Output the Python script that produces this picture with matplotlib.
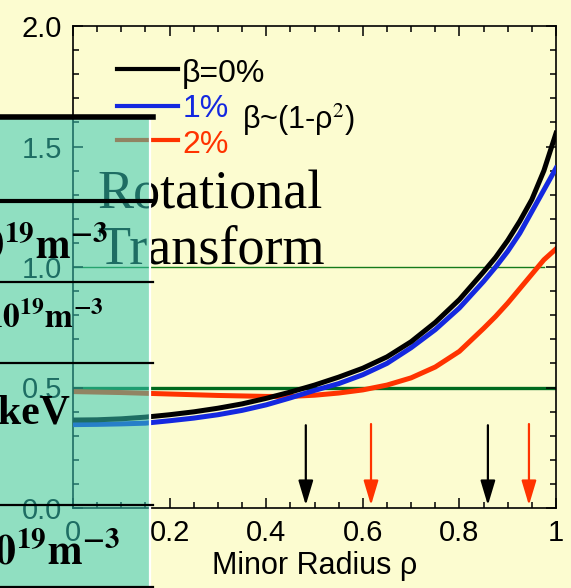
import matplotlib.pyplot as plt
from matplotlib.lines import Line2D
from matplotlib.patches import Rectangle
from matplotlib.ticker import MultipleLocator

plt.rcParams['font.family'] = ['Liberation Sans', 'DejaVu Sans']
plt.rcParams['mathtext.fontset'] = 'stix'

BG = '#FCFCD0'

# iota profiles
rho = [0.0, 0.05, 0.1, 0.15, 0.2, 0.25, 0.3, 0.35, 0.4, 0.45, 0.5, 0.55, 0.6, 0.65,
       0.7, 0.75, 0.8, 0.85, 0.875, 0.9, 0.925, 0.95, 0.975, 1.0]
iota_b0 = [0.365, 0.366, 0.37, 0.377, 0.387, 0.399, 0.414, 0.432, 0.455, 0.481, 0.51, 0.543,
           0.58, 0.627, 0.69, 0.77, 0.865, 0.98, 1.04, 1.11, 1.19, 1.28, 1.40, 1.555]
iota_b1 = [0.346, 0.347, 0.349, 0.352, 0.362, 0.373, 0.387, 0.405, 0.428, 0.457, 0.488, 0.516,
           0.553, 0.60, 0.665, 0.74, 0.83, 0.94, 1.0, 1.065, 1.14, 1.23, 1.32, 1.41]
iota_b2 = [0.483, 0.481, 0.479, 0.476, 0.473, 0.47, 0.467, 0.465, 0.463, 0.463, 0.468, 0.477,
           0.49, 0.51, 0.54, 0.585, 0.65, 0.745, 0.795, 0.85, 0.91, 0.97, 1.03, 1.075]

# rational surfaces (iota = 1/2 and 1)
arrow_black = [0.482, 0.859]
arrow_red = [0.617, 0.944]

table_rows = [r'$\mathbf{10^{19}m^{-3}}$', r'$\mathbf{10^{19}m^{-3}}$', 'keV', r'$\mathbf{10^{19}m^{-3}}$']

fig = plt.figure(figsize=(5.71, 5.88), dpi=100, facecolor=BG)
ax = fig.add_axes([73 / 571, 1 - 508 / 588, 483 / 571, 482 / 588], facecolor=BG)

ax.axhline(1.0, xmax=0.975, color='#157a1a', lw=1.0, zorder=1)
ax.axhline(0.5, color='#006a1e', lw=2.4, zorder=1)

ax.plot(rho, iota_b2, color='#FF3300', lw=3.6, zorder=2)
ax.plot(rho, iota_b1, color='#1428E0', lw=3.6, zorder=3)
ax.plot(rho, iota_b0, color='black', lw=3.6, zorder=4)

for xa in arrow_black:
    ax.annotate('', xy=(xa, 0.0), xytext=(xa, 0.355),
                arrowprops=dict(arrowstyle='-|>,head_length=1.5,head_width=0.45', color='black', lw=1.6))
for xa in arrow_red:
    ax.annotate('', xy=(xa, 0.0), xytext=(xa, 0.36),
                arrowprops=dict(arrowstyle='-|>,head_length=1.5,head_width=0.45', color='#FF3300', lw=1.6))

ax.set_xlim(0, 1)
ax.set_ylim(0, 2)
ax.xaxis.set_major_locator(MultipleLocator(0.2))
ax.xaxis.set_minor_locator(MultipleLocator(0.05))
ax.yaxis.set_major_locator(MultipleLocator(0.5))
ax.yaxis.set_minor_locator(MultipleLocator(0.1))
ax.xaxis.set_major_formatter(plt.FuncFormatter(lambda v, p: '%g' % round(v, 1)))
ax.yaxis.set_major_formatter(plt.FuncFormatter(lambda v, p: '%.1f' % v))
ax.tick_params(which='both', direction='in', top=True, right=True, labelsize=21, width=1.1)
ax.tick_params(which='major', length=7, pad=8)
ax.tick_params(which='minor', length=4)
for s in ax.spines.values():
    s.set_linewidth(1.2)
ax.set_xlabel('Minor Radius ρ', fontsize=22, labelpad=3)

# legend drawn by hand
leg = [('β=0%', 'black', 0.911, 0.900), ('1%', '#1428E0', 0.834, 0.828), ('2%', '#FF3300', 0.763, 0.753)]
for lab, col, yl, yt in leg:
    ax.plot([0.091, 0.217], [yl, yl], color=col, lw=3.0, transform=ax.transAxes, clip_on=False)
    ax.text(0.226, yt, lab, color=col, fontsize=23, va='center', transform=ax.transAxes)
ax.text(0.350, 0.805, 'β~(1-ρ$^2$)', fontsize=22, va='center', transform=ax.transAxes)

ax.text(0.050, 0.622, 'Rotational', fontsize=39, family='Liberation Serif', va='baseline', transform=ax.transAxes)
ax.text(0.052, 0.508, 'Transform', fontsize=39, family='Liberation Serif', va='baseline', transform=ax.transAxes)

# overlapping table panel on the left
W, H = 571, 588
fig.add_artist(Rectangle((0, 0), 150 / W, 1 - 119 / H, transform=fig.transFigure,
                         facecolor='#37C8B6', alpha=0.55, edgecolor='none', zorder=5))
fig.add_artist(Line2D([150 / W, 150 / W], [0, 1 - 120 / H], color='white', lw=1.6, zorder=6))
for yy, lw in [(117, 4.0), (201, 3.0), (282, 1.6), (363, 1.6), (505, 1.6), (587, 1.6)]:
    fig.add_artist(Line2D([0, 153 / W], [1 - yy / H, 1 - yy / H], color='black', lw=lw, zorder=6))

row_pos = [(108, 258, 30), (104, 328, 24), (70, 423, 30), (120, 563, 30)]
for txt, (xr, yb, fs) in zip(table_rows, row_pos):
    fig.text(xr / W, 1 - yb / H, txt, ha='right', va='baseline', fontsize=fs,
             family='Liberation Serif', weight='bold', zorder=7)

fig.savefig('out.png', dpi=100, facecolor=BG)
